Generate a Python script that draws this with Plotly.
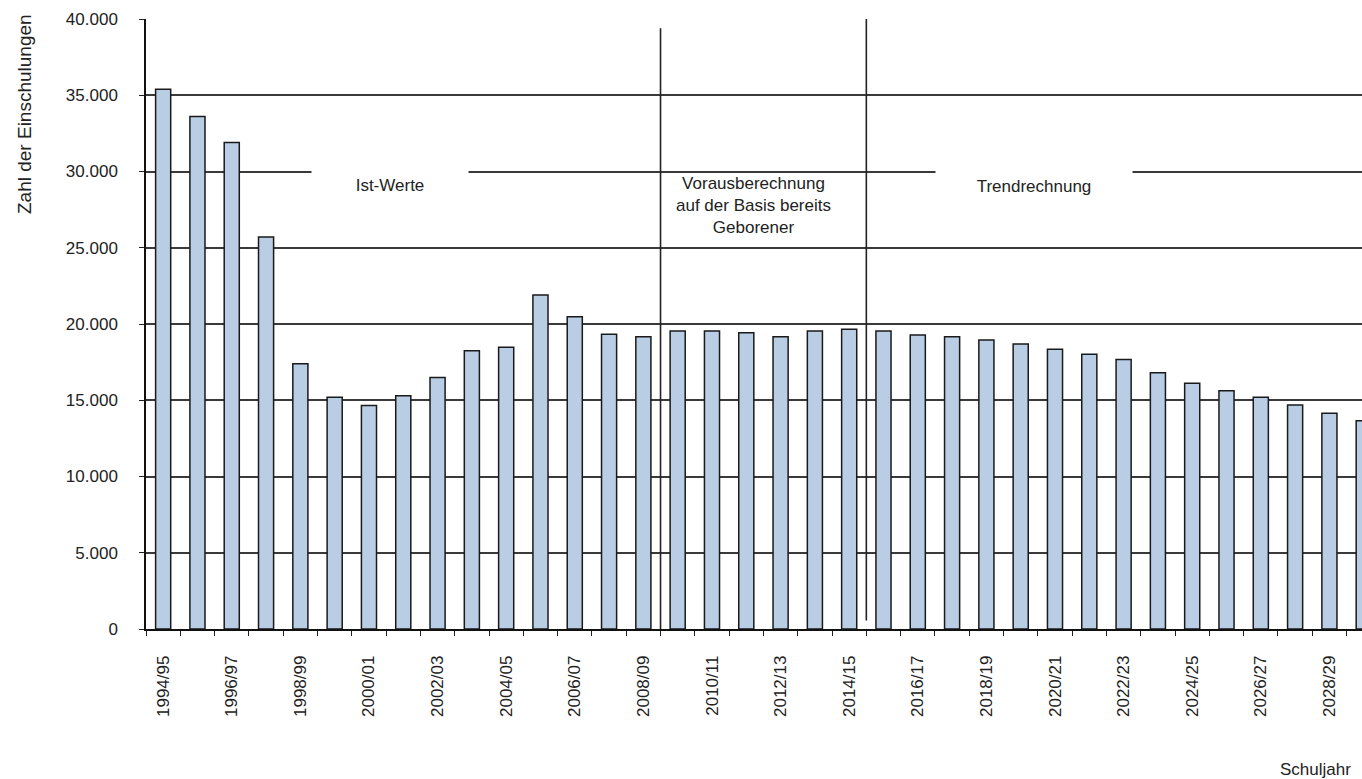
import plotly.graph_objects as go

# ---- data ----
school_years = [
    "1994/95", "1995/96", "1996/97", "1997/98", "1998/99", "1999/00", "2000/01", "2001/02",
    "2002/03", "2003/04", "2004/05", "2005/06", "2006/07", "2007/08", "2008/09", "2009/10",
    "2010/11", "2011/12", "2012/13", "2013/14", "2014/15", "2015/16", "2016/17", "2017/18",
    "2018/19", "2019/20", "2020/21", "2021/22", "2022/23", "2023/24", "2024/25", "2025/26",
    "2026/27", "2027/28", "2028/29", "2029/30",
]
enrolments = [
    35400, 33600, 31900, 25700, 17400, 15200, 14650, 15300,
    16500, 18250, 18470, 21900, 20480, 19320, 19170, 19540,
    19540, 19430, 19170, 19540, 19650, 19540, 19280, 19170,
    18950, 18690, 18340, 18010, 17680, 16810, 16110, 15630,
    15190, 14690, 14140, 13660,
]
y_ticks = [0, 5000, 10000, 15000, 20000, 25000, 30000, 35000, 40000]
tick_labels = [s if i % 2 == 0 else "" for i, s in enumerate(school_years)]
section_labels = ["Ist-Werte", "Vorausberechnung<br>auf der Basis bereits<br>Geborener", "Trendrechnung"]

FONT = "Arial, Liberation Sans, sans-serif"
TXT = "#222222"

fig = go.Figure()
fig.add_trace(go.Bar(
    x=school_years, y=enrolments,
    marker=dict(color="#B9CDE5", line=dict(color="#1a1a1a", width=1.5)),
    showlegend=False,
))

fig.update_layout(
    width=1362, height=779,
    margin=dict(l=146, r=0, t=19, b=150),
    paper_bgcolor="white", plot_bgcolor="white",
    separators=",.",
    bargap=0.56,
    font=dict(family=FONT, size=17, color=TXT),
    xaxis=dict(
        type="category",
        range=[-0.5, 34.95],
        tickmode="array", tickvals=school_years, ticktext=tick_labels,
        tickangle=-90, tickson="boundaries",
        ticks="outside", ticklen=5, tickcolor="#222", tickwidth=1.2,
        ticklabelstandoff=18,
        tickfont=dict(size=17, color=TXT),
        showline=True, linecolor="#111", linewidth=1.5,
        showgrid=False, zeroline=False,
    ),
    yaxis=dict(
        range=[0, 40000],
        tickmode="array", tickvals=y_ticks, tickformat=",d",
        ticks="outside", ticklen=5, tickcolor="#222", tickwidth=1.2,
        ticklabelstandoff=18,
        tickfont=dict(size=17, color=TXT),
        showline=True, linecolor="#111", linewidth=1.5,
        showgrid=True, gridcolor="#3a3a3a", gridwidth=1.6,
        zeroline=False,
    ),
)

# section separator lines
fig.add_shape(type="line", xref="x", yref="y", x0=14.5, x1=14.5, y0=0, y1=39400,
              line=dict(color="#222", width=1.6))
fig.add_shape(type="line", xref="x", yref="y", x0=20.5, x1=20.5, y0=550, y1=40000,
              line=dict(color="#222", width=1.6))

def px_x(px):
    return (px - 146) / 1216

def px_y(py):
    return (629 - py) / 610

# section labels (white boxes interrupt the 30.000 line)
fig.add_annotation(text=section_labels[0], xref="paper", yref="paper",
                   x=px_x(390), y=px_y(185), xanchor="center", yanchor="middle",
                   showarrow=False, width=154, height=36, bgcolor="white",
                   font=dict(size=17, color=TXT))
fig.add_annotation(text=section_labels[1], xref="paper", yref="paper",
                   x=px_x(753), y=px_y(205), xanchor="center", yanchor="middle",
                   showarrow=False, font=dict(size=17, color=TXT))
fig.add_annotation(text=section_labels[2], xref="paper", yref="paper",
                   x=px_x(1034), y=px_y(186), xanchor="center", yanchor="middle",
                   showarrow=False, width=194, height=36, bgcolor="white",
                   font=dict(size=17, color=TXT))

# axis titles
fig.add_annotation(text="Zahl der Einschulungen", xref="paper", yref="paper",
                   x=px_x(25), y=px_y(114), xanchor="center", yanchor="middle",
                   textangle=-90, showarrow=False, font=dict(size=19, color=TXT))
fig.add_annotation(text="Schuljahr", xref="paper", yref="paper",
                   x=px_x(1315), y=px_y(769), xanchor="center", yanchor="middle",
                   showarrow=False, font=dict(size=17, color=TXT))

fig.write_html("out.html")
